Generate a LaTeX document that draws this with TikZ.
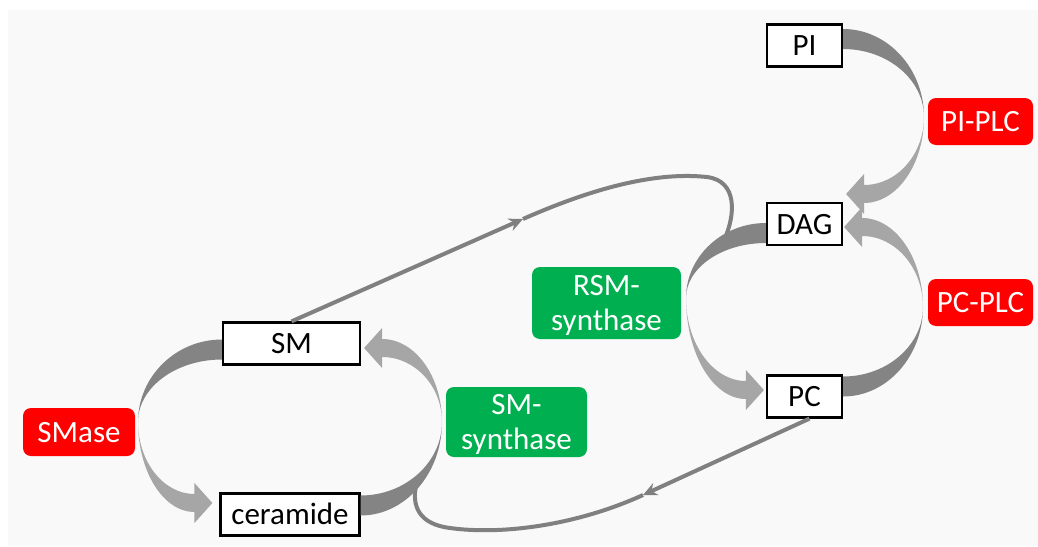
\documentclass[tikz,border=0pt]{standalone}
\usepackage{fontspec}
\setmainfont{Carlito}
\usepackage{tikz}
\usetikzlibrary{arrows.meta,calc}
\definecolor{plcred}{RGB}{255,0,0}
\definecolor{synthgreen}{RGB}{0,176,80}
\definecolor{panel}{RGB}{249,249,249}
\definecolor{linkgray}{RGB}{128,128,128}
\definecolor{bandgray}{RGB}{132,132,132}
\definecolor{bandlight}{RGB}{166,166,166}
\newcommand{\diagfont}{\fontsize{31}{35}\selectfont}
\tikzset{
    lipid box/.style={draw=black,line width=2.2pt,fill=white,inner sep=0pt,minimum height=42pt,text height=20pt,text depth=0pt},
    enzyme/.style={rounded corners=8pt,text=white,inner sep=0pt,text depth=0pt},
    enzyme red/.style={enzyme,fill=plcred,minimum height=47pt,text height=20pt},
    enzyme green/.style={enzyme,fill=synthgreen,align=center},
    thin link/.style={draw=linkgray,line width=4pt},
    link arr/.style={thin link,-{Stealth[length=14pt,width=13pt]}},
    dark band/.style={fill=bandgray},
    light band/.style={fill=bandlight},
}
\tikzstyle{every node}=[font=\diagfont]
% #1 tail, #2 fold, #3 tip, #4 head points right (1) or left (-1), #5 goes down (1) or up (-1)
\newcommand{\foldarrow}[5]{%
    \coordinate (tlo) at ($(#1)+(0,{-10*(#5)})$);
    \coordinate (tli) at ($(#1)+(0,{10*(#5)})$);
    \coordinate (hbc) at ($(#3)+({-18*(#4)},0)$);
    \coordinate (hdo) at ($(hbc)+(0,{9*(#5)})$);
    \coordinate (hdi) at ($(hbc)+(0,{-9*(#5)})$);
    \coordinate (hbo) at ($(hbc)+(0,{20*(#5)})$);
    \coordinate (hbi) at ($(hbc)+(0,{-20*(#5)})$);
    \fill[dark band] (tlo) .. controls ($(tlo)!0.55!(#2 |- tlo)$) and ($(#2)!0.55!(#2 |- tlo)$) .. (#2)
        .. controls ($(#2)!0.55!(#2 |- tli)$) and ($(tli)!0.55!(#2 |- tli)$) .. (tli) -- cycle;
    \fill[light band] (#2) .. controls ($(#2)!0.55!(#2 |- hdo)$) and ($(hdo)!0.55!(#2 |- hdo)$) .. (hdo)
        -- (hbo) -- (#3) -- (hbi) -- (hdi)
        .. controls ($(hdi)!0.55!(#2 |- hdi)$) and ($(#2)!0.55!(#2 |- hdi)$) .. (#2) -- cycle;
}

\begin{document}
\begin{tikzpicture}[x=1pt,y=-1pt]
        \useasboundingbox (0,0) rectangle (1038,546);
        \fill[white] (0,0) rectangle (1038,546);
        \fill[panel] (8,10) rectangle (1038,546);

        \node[lipid box,minimum width=75pt] (PI) at (804.5,45.5) {PI};
        \node[lipid box,minimum width=75pt] (DAG) at (804.5,224) {DAG};
        \node[lipid box,minimum width=75pt] (PC) at (804.5,396.5) {PC};
        \node[lipid box,minimum width=137pt] (SM) at (291.5,343.5) {SM};
        \node[lipid box,minimum width=139pt] (cer) at (290,514.5) {ceramide};

        \node[enzyme red,minimum width=112pt,minimum height=48pt] (SMase) at (79,432) {SMase};
        \node[enzyme red,minimum width=105pt] (PIPLC) at (980.5,121.5) {PI-PLC};
        \node[enzyme red,minimum width=105pt] (PCPLC) at (980.5,302.5) {PC-PLC};
        \node[enzyme green,minimum width=141pt,minimum height=70pt] (SMsyn) at (516.5,422) {SM-\\synthase};
        \node[enzyme green,minimum width=149pt,minimum height=72pt] (RSMsyn) at (606.5,303) {RSM-\\synthase};

        \coordinate (smarr) at (523,219);
        \coordinate (rsmjoin) at (725,238);
        \coordinate (pcarr) at (643,495);
        \coordinate (cerjoin) at (416,486);
        \draw[link arr] (SM.north) -- (smarr);
        \draw[thin link] (smarr) .. controls (600,185) and (660,172) .. (707,177)
            .. controls (738,181) and (735,215) .. (rsmjoin);
        \draw[link arr] ($(PC.south)+(5,0)$) -- (pcarr);
        \draw[thin link] (pcarr) .. controls (575,526) and (500,535) .. (450,528)
            .. controls (418,524) and (412,505) .. (cerjoin);

        \coordinate (pitail) at ($(PI.east)+(0,-6.5)$);
        \coordinate (pifold) at (924,117);
        \coordinate (pitip) at ($(DAG.east)+(3,-30)$);
        \coordinate (pctail) at ($(PC.east)+(0,-10)$);
        \coordinate (pcfold) at (923,307);
        \coordinate (pctip) at ($(DAG.east)+(1,3)$);
        \coordinate (rsmtail) at ($(DAG.west)+(0,9)$);
        \coordinate (rsmfold) at (686,298);
        \coordinate (rsmtip) at ($(PC.west)+(-2,-6.5)$);
        \coordinate (smtail) at ($(SM.west)+(0,6)$);
        \coordinate (smfold) at (138,422);
        \coordinate (smtip) at ($(cer.west)+(-7,-11.5)$);
        \coordinate (certail) at ($(cer.east)+(0,-9)$);
        \coordinate (cerfold) at (442,422);
        \coordinate (certip) at ($(SM.east)+(3,4.5)$);

        \foldarrow{pitail}{pifold}{pitip}{-1}{1}
        \foldarrow{pctail}{pcfold}{pctip}{-1}{-1}
        \foldarrow{rsmtail}{rsmfold}{rsmtip}{1}{1}
        \foldarrow{smtail}{smfold}{smtip}{1}{1}
        \foldarrow{certail}{cerfold}{certip}{-1}{-1}
\end{tikzpicture}
\end{document}
